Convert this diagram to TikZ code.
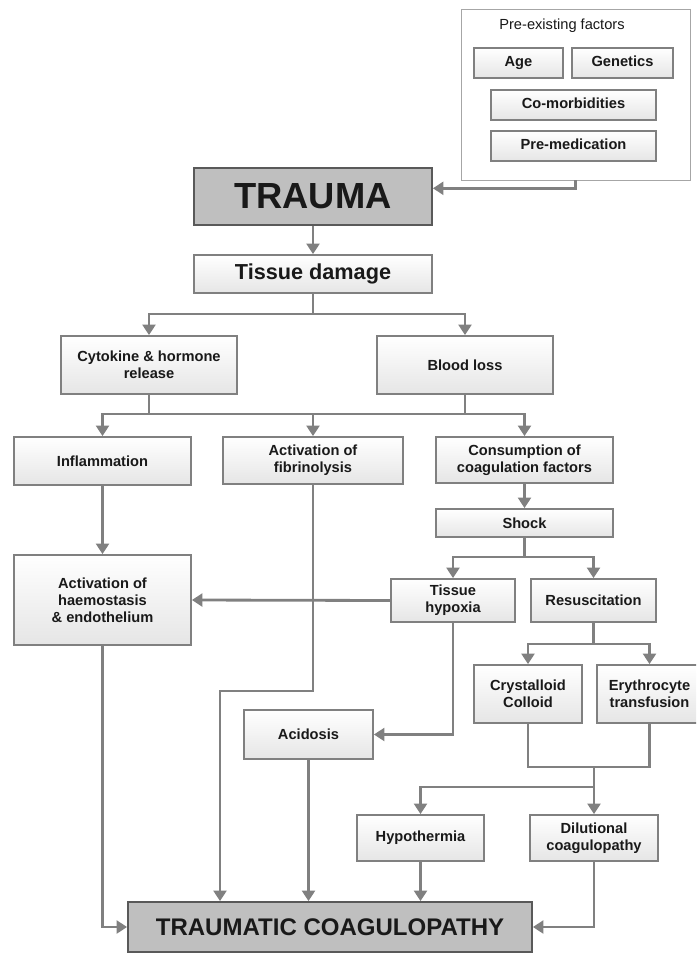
\documentclass[tikz,border=0pt]{standalone}
\usepackage{fontspec}
\setmainfont{Liberation Sans}
\usetikzlibrary{arrows.meta,calc}
\begin{document}
\begin{tikzpicture}[x=0.03cm,y=-0.03cm,
  every node/.style={font=\bfseries\fontsize{12.5}{14.5}\selectfont, text=black!90, align=center, inner sep=1pt},
  box/.style={rectangle, draw=black!50, line width=1.5pt, top color=white, bottom color=black!10},
  bigbox/.style={rectangle, draw=black!65, line width=1.5pt, fill=black!25},
  conn/.style={draw=black!50, line width=2.4pt},
  arr/.style={conn, -{Triangle[length=9pt,width=11pt]}},
  one/.style={text height=1.7ex, text depth=0.45ex},
]
\clip (0,0) rectangle (696,955);
\fill[white] (0,0) rectangle (696,955);

% pre-existing factors group
\node[rectangle, draw=black!35, line width=0.8pt, fill=white, minimum width=6.87cm, minimum height=5.13cm] (pre) at (575.5,94.5) {};
\node[font=\fontsize{12.5}{14}\selectfont] (pretitle) at (562,26) {Pre-existing factors};
\node[box, one, minimum width=2.67cm, minimum height=0.9cm] (age) at (518.5,63) {Age};
\node[box, one, minimum width=3.03cm, minimum height=0.9cm] (gen) at (622.5,63) {Genetics};
\node[box, one, minimum width=4.95cm, minimum height=0.9cm] (comor) at (573.5,105) {Co-morbidities};
\node[box, one, minimum width=4.95cm, minimum height=0.9cm] (premed) at (573.5,146) {Pre-medication};

% main chain
\node[bigbox, minimum width=7.14cm, minimum height=1.71cm, font=\bfseries\fontsize{31}{34}\selectfont] (trauma) at (313,196.5) {TRAUMA};
\node[box, minimum width=7.14cm, minimum height=1.14cm, font=\bfseries\fontsize{18.5}{20}\selectfont] (tissue) at (313,274) {Tissue damage};
\node[box, minimum width=5.28cm, minimum height=1.74cm] (cyto) at (149,365) {Cytokine \& hormone\\release};
\node[box, minimum width=5.28cm, minimum height=1.74cm] (blood) at (465,365) {Blood loss};
\node[box, minimum width=5.31cm, minimum height=1.44cm] (infl) at (102.5,461) {Inflammation};
\node[box, minimum width=5.4cm, minimum height=1.41cm] (fibr) at (313,460.5) {Activation of\\fibrinolysis};
\node[box, minimum width=5.31cm, minimum height=1.38cm] (cons) at (524.5,460) {Consumption of\\coagulation factors};
\node[box, minimum width=5.31cm, minimum height=0.84cm] (shock) at (524.5,523) {Shock};
\node[box, minimum width=3.72cm, minimum height=1.29cm] (hypox) at (453,600.5) {Tissue\\hypoxia};
\node[box, minimum width=3.75cm, minimum height=1.29cm] (resus) at (593.5,600.5) {Resuscitation};
\node[box, minimum width=5.31cm, minimum height=2.7cm] (haemo) at (102.5,600) {Activation of\\haemostasis\\\& endothelium};
\node[box, minimum width=3.24cm, minimum height=1.74cm] (cryst) at (528,694) {Crystalloid\\Colloid};
\node[box, minimum width=3.15cm, minimum height=1.74cm] (eryth) at (649.5,694) {Erythrocyte\\transfusion};
\node[box, minimum width=3.87cm, minimum height=1.47cm] (acid) at (308.5,734.5) {Acidosis};
\node[box, minimum width=3.81cm, minimum height=1.38cm] (hypoth) at (420.5,838) {Hypothermia};
\node[box, minimum width=3.84cm, minimum height=1.38cm] (dilut) at (594,838) {Dilutional\\coagulopathy};
\node[bigbox, minimum width=12.12cm, minimum height=1.5cm, font=\bfseries\fontsize{20.5}{23}\selectfont] (tc) at (330,927) {TRAUMATIC COAGULOPATHY};

% connectors
\draw[arr] (pre.south) |- ([yshift=7pt]trauma.east);
\draw[arr] (trauma.south) -- (tissue.north);
\coordinate (j1) at (313,314);
\draw[arr] (tissue.south) -- (j1) -| (cyto.north);
\draw[arr] (j1) -| (blood.north);

\coordinate (bus2) at (0,414);
\draw[arr] (cyto.south) -- (cyto.south |- bus2) -| (infl.north);
\draw[arr] (cyto.south |- bus2) -| (fibr.north);
\draw[conn] (cyto.south |- bus2) -- (blood.south |- bus2);
\draw[arr] (blood.south) -- (blood.south |- bus2) -| (cons.north);

\draw[arr] (infl.south) -- (haemo.north);
\draw[arr] (cons.south) -- (shock.north);

\coordinate (bus3) at (0,557);
\draw[arr] (shock.south) -- (shock.south |- bus3) -| (hypox.north);
\draw[arr] (shock.south |- bus3) -| (resus.north);

\draw[arr] (hypox.west) -- (haemo.east);

\coordinate (fb) at (220,691);
\draw[arr] (fibr.south) |- (fb) -- (fb |- tc.north);
\draw[arr] (haemo.south) |- (tc.west);
\draw[arr] (hypox.south) |- (acid.east);
\draw[arr] (acid.south) -- (acid.south |- tc.north);

\coordinate (bus4) at (0,644);
\draw[arr] (resus.south) -- (resus.south |- bus4) -| (cryst.north);
\draw[arr] (resus.south |- bus4) -| (eryth.north);

\coordinate (bus5) at (0,767);
\draw[conn] (cryst.south) |- (bus5 -| eryth.south) -- (eryth.south);
\coordinate (m) at (594,767);
\draw[arr] (m) -- (dilut.north);
\coordinate (bus6) at (0,787);
\draw[arr] (m |- bus6) -| (hypoth.north);
\draw[arr] (hypoth.south) -- (hypoth.south |- tc.north);
\draw[arr] (dilut.south) |- (tc.east);
\end{tikzpicture}
\end{document}
